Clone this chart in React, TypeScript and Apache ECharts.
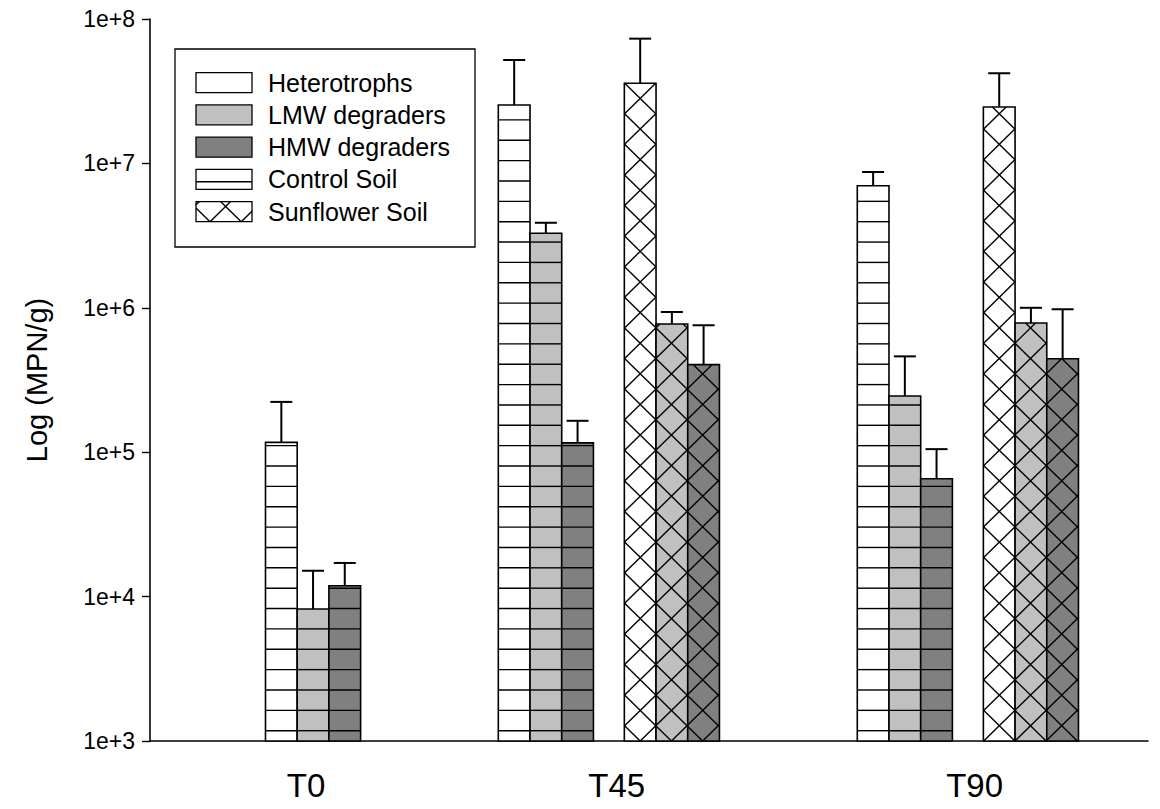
import React, { useEffect, useRef } from 'react';
import * as echarts from 'echarts';

// ---------- DATA ----------
const timePoints = ['T0', 'T45', 'T90'];
const fractions = ['Heterotrophs', 'LMW degraders', 'HMW degraders'];
const soils = ['Control Soil', 'Sunflower Soil'];

// mean MPN/g
const controlHeterotrophs = [1.17e5, 2.54e7, 7.01e6];
const controlLMW = [8.2e3, 3.28e6, 2.45e5];
const controlHMW = [1.19e4, 1.16e5, 6.55e4];
const sunflowerHeterotrophs = [null, 3.59e7, 2.46e7];
const sunflowerLMW = [null, 7.72e5, 7.85e5];
const sunflowerHMW = [null, 4.04e5, 4.44e5];

// upper error (added to the mean)
const controlHeterotrophsErr = [1.06e5, 2.66e7, 1.71e6];
const controlLMWErr = [6.9e3, 6.0e5, 2.16e5];
const controlHMWErr = [5.2e3, 4.9e4, 3.95e4];
const sunflowerHeterotrophsErr = [null, 3.72e7, 1.75e7];
const sunflowerLMWErr = [null, 1.63e5, 2.15e5];
const sunflowerHMWErr = [null, 3.53e5, 5.33e5];

const Y_MIN = 1e3;
const Y_MAX = 1e8;

// ---------- LAYOUT (x axis in bar-width units) ----------
const X_MAX = 31.48;
const CONTROL_LEFT = [3.643, 10.987, 22.31];
const SUNFLOWER_LEFT = [null, 14.962, 26.287];
const LABEL_POS = [4.921, 14.72, 26.01];

const FONT = '"Liberation Sans", Arial, Helvetica, sans-serif';
const FILLS = ['#ffffff', '#c0c0c0', '#808080'];
const LW = 1.6;

// horizontal-line pattern
const H_OFFSET = 10.3;
const H_STEP = 20.36;
// cross-hatch pattern
const X_SLOPE = 0.98;
const X_PERIOD = 30.6;
const X_ANCHOR_DX = 490.2;

type Seg = [number, number, number, number];

function hLines(L: number, T: number, R: number, B: number, baseY: number): Seg[] {
  const out: Seg[] = [];
  for (let y = baseY - H_OFFSET; y > T + 1; y -= H_STEP) {
    if (y < B) out.push([L, y, R, y]);
  }
  return out;
}

function xLines(L: number, T: number, R: number, B: number, ax: number, ay: number): Seg[] {
  const s = X_SLOPE, P = X_PERIOD;
  const out: Seg[] = [];
  const a0 = ay - s * ax;
  const iMin = Math.ceil((T - s * R - a0) / P);
  const iMax = Math.floor((B - s * L - a0) / P);
  for (let i = iMin; i <= iMax; i++) {
    const a = a0 + i * P;
    const x1 = Math.max(L, (T - a) / s);
    const x2 = Math.min(R, (B - a) / s);
    if (x2 - x1 > 0.3) out.push([x1, s * x1 + a, x2, s * x2 + a]);
  }
  const b0 = ay + s * ax;
  const jMin = Math.ceil((T + s * L - b0) / P);
  const jMax = Math.floor((B + s * R - b0) / P);
  for (let j = jMin; j <= jMax; j++) {
    const b = b0 + j * P;
    const x1 = Math.max(L, (b - B) / s);
    const x2 = Math.min(R, (b - T) / s);
    if (x2 - x1 > 0.3) out.push([x1, -s * x1 + b, x2, -s * x2 + b]);
  }
  return out;
}

function segEls(segs: Seg[]) {
  return segs.map((sg) => ({
    type: 'line',
    shape: { x1: sg[0], y1: sg[1], x2: sg[2], y2: sg[3] },
    style: { stroke: '#000', lineWidth: 1.4 },
  }));
}

function makeRender(fill: string, pattern: 'h' | 'x') {
  return (params: any, api: any) => {
    const xl = api.value(0);
    const v = api.value(1);
    const e = api.value(2);
    const tl = api.coord([xl, v]);
    const br = api.coord([xl + 1, Y_MIN]);
    const origin = api.coord([0, Y_MIN]);
    const L = tl[0], T = tl[1], R = br[0], B = br[1];
    const children: any[] = [];
    children.push({
      type: 'rect',
      shape: { x: L, y: T, width: R - L, height: B - T },
      style: { fill, stroke: 'none' },
    });
    const segs =
      pattern === 'h'
        ? hLines(L, T, R, B, origin[1])
        : xLines(L, T, R, B, origin[0] + X_ANCHOR_DX, origin[1]);
    children.push(...segEls(segs));
    children.push({
      type: 'rect',
      shape: { x: L, y: T, width: R - L, height: B - T },
      style: { fill: 'none', stroke: '#000', lineWidth: LW },
    });
    const et = api.coord([xl + 0.5, v + e]);
    const cx = (L + R) / 2;
    children.push({
      type: 'line',
      shape: { x1: cx, y1: T, x2: cx, y2: et[1] },
      style: { stroke: '#000', lineWidth: 2 },
    });
    children.push({
      type: 'line',
      shape: { x1: cx - 11, y1: et[1], x2: cx + 11, y2: et[1] },
      style: { stroke: '#000', lineWidth: 2 },
    });
    return { type: 'group', children };
  };
}

function buildSeries() {
  const sets = [
    { soil: soils[0], pattern: 'h' as const, left: CONTROL_LEFT, means: [controlHeterotrophs, controlLMW, controlHMW], errs: [controlHeterotrophsErr, controlLMWErr, controlHMWErr] },
    { soil: soils[1], pattern: 'x' as const, left: SUNFLOWER_LEFT, means: [sunflowerHeterotrophs, sunflowerLMW, sunflowerHMW], errs: [sunflowerHeterotrophsErr, sunflowerLMWErr, sunflowerHMWErr] },
  ];
  const series: any[] = [];
  sets.forEach((set) => {
    fractions.forEach((fr, f) => {
      const data: any[] = [];
      timePoints.forEach((t, i) => {
        const m = set.means[f][i];
        const lx = set.left[i];
        if (m == null || lx == null) return;
        data.push([lx + f, m, set.errs[f][i]]);
      });
      series.push({
        type: 'custom',
        name: set.soil + ' - ' + fr,
        renderItem: makeRender(FILLS[f], set.pattern),
        encode: { x: 0, y: 1 },
        data,
        clip: false,
      });
    });
  });
  return series;
}

function buildLegend() {
  const els: any[] = [];
  const boxX = 175, boxY = 49, boxW = 300, boxH = 198;
  els.push({
    type: 'rect',
    shape: { x: boxX, y: boxY, width: boxW, height: boxH },
    style: { fill: '#fff', stroke: '#000', lineWidth: 1.3 },
  });
  const labels = [...fractions, ...soils];
  const sx = 196, sw = 56, sh = 20;
  labels.forEach((lab, i) => {
    const y = 72.7 + i * 32.25;
    const fill = i < 3 ? FILLS[i] : '#fff';
    els.push({ type: 'rect', shape: { x: sx, y, width: sw, height: sh }, style: { fill, stroke: 'none' } });
    if (i === 3) {
      els.push(...segEls([[sx, y + 12.3, sx + sw, y + 12.3]]));
    }
    if (i === 4) {
      els.push(...segEls(xLines(sx, y, sx + sw, y + sh, sx + 14, y + sh)));
    }
    els.push({ type: 'rect', shape: { x: sx, y, width: sw, height: sh }, style: { fill: 'none', stroke: '#000', lineWidth: 1.3 } });
    els.push({
      type: 'text',
      x: 268,
      y: y + sh / 2,
      style: { text: lab, fontSize: 25, fontFamily: FONT, fill: '#000', verticalAlign: 'middle', align: 'left' },
    });
  });
  return els;
}

export default function App() {
  const ref = useRef<HTMLDivElement>(null);
  useEffect(() => {
    if (!ref.current) return;
    const chart = echarts.init(ref.current, undefined, { renderer: 'svg' });
    chart.setOption({
      animation: false,
      backgroundColor: '#fff',
      textStyle: { fontFamily: FONT },
      grid: { left: 150, right: 12, top: 19, bottom: 68, containLabel: false },
      xAxis: {
        type: 'value',
        min: 0,
        max: X_MAX,
        axisLine: { show: true, onZero: false, lineStyle: { color: '#000', width: 1.6 } },
        axisTick: { show: false },
        splitLine: { show: false },
        axisLabel: {
          customValues: LABEL_POS,
          formatter: (v: number) => {
            let best = 0;
            LABEL_POS.forEach((p, i) => {
              if (Math.abs(p - v) < Math.abs(LABEL_POS[best] - v)) best = i;
            });
            return timePoints[best];
          },
          fontSize: 33,
          fontFamily: FONT,
          color: '#000',
          margin: 28,
        },
      },
      yAxis: {
        type: 'log',
        logBase: 10,
        min: Y_MIN,
        max: Y_MAX,
        axisLine: { show: true, lineStyle: { color: '#000', width: 1.6 } },
        axisTick: { show: true, inside: false, length: 8, lineStyle: { color: '#000', width: 1.4 } },
        minorTick: { show: false },
        splitLine: { show: false },
        axisLabel: {
          formatter: (v: number) => '1e+' + Math.round(Math.log10(v)),
          fontSize: 23,
          fontFamily: FONT,
          color: '#000',
          margin: 15,
        },
        name: 'Log (MPN/g)',
        nameLocation: 'middle',
        nameGap: 99,
        nameTextStyle: { fontSize: 29, fontFamily: FONT, color: '#000' },
      },
      graphic: { elements: buildLegend() },
      series: buildSeries(),
    });
    return () => chart.dispose();
  }, []);
  return <div ref={ref} style={{ position: 'fixed', left: 0, top: 0, width: 1160, height: 809 }} />;
}
